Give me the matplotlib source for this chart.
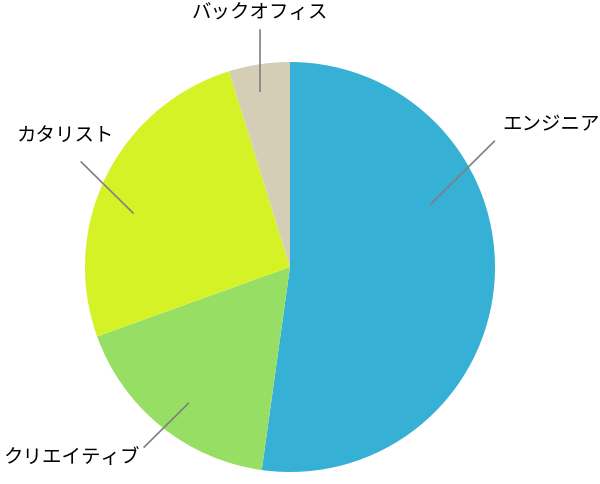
import numpy as np
import matplotlib
matplotlib.use("Agg")
import matplotlib.pyplot as plt

plt.rcParams['font.family'] = ['Noto Sans CJK JP', 'DejaVu Sans']

# データ
labels = ["エンジニア", "クリエイティブ", "カタリスト", "バックオフィス"]
values = [52.2, 17.3, 25.7, 4.8]
colors = ["#36B0D4", "#96DE64", "#D5F227", "#D4CEB7"]

# 引き出し線 (角度, 半径比) : 内側と外側
inner_pts = [(24, 0.75), (-126.7, 0.83), (161, 0.81), (99.7, 0.87)]
outer_pts = [(31.6, 1.17), (-129, 1.13), (153.3, 1.14), (97.2, 1.165)]
# ラベル位置 (中心からのオフセット, px) と揃え
text_off = [(212, 143), (-287, -190), (-273, 133), (-30, 256)]
text_ha = ["left", "left", "left", "center"]

W, H = 600, 485
cx, cy, r = 290, H - 268, 205

fig = plt.figure(figsize=(6, 4.85), dpi=100)
ax = fig.add_axes([0, 0, 1, 1])
ax.pie(values, colors=colors, startangle=90, counterclock=False,
       center=(cx, cy), radius=r, wedgeprops=dict(linewidth=0))
ax.set_xlim(0, W)
ax.set_ylim(0, H)
ax.set_aspect("equal")
ax.axis("off")

def polar(a, f):
    t = np.deg2rad(a)
    return cx + f * r * np.cos(t), cy + f * r * np.sin(t)

for lab, ip, op, to, ha in zip(labels, inner_pts, outer_pts, text_off, text_ha):
    x0, y0 = polar(*ip)
    x1, y1 = polar(*op)
    ax.plot([x0, x1], [y0, y1], color="#808080", lw=1.2)
    ax.text(cx + to[0], cy + to[1], lab, ha=ha, va="center",
            fontsize=14, color="black")

fig.savefig("out.png", dpi=100)
